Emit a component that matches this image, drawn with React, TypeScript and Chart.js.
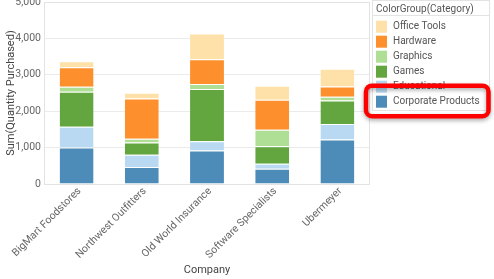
import React, { useEffect, useRef } from "react";
import { Chart, registerables } from "chart.js";

Chart.register(...registerables);

const companies = ["BigMart Foodstores", "Northwest Outfitters", "Old World Insurance", "Software Specialists", "Ubermeyer"];
const categories = ["Corporate Products", "Educational", "Games", "Graphics", "Hardware", "Office Tools"];
const corporateProducts = [1000, 468, 917, 421, 1220];
const educational = [570, 339, 259, 138, 425];
const games = [964, 331, 1432, 480, 650];
const graphics = [138, 102, 138, 449, 102];
const hardware = [532, 1110, 678, 826, 284];
const officeTools = [165, 157, 708, 386, 487];
const yTicks = [0, 1000, 2000, 3000, 4000, 5000];
const legendTitle = "ColorGroup(Category)";
const highlighted = "Corporate Products";

const seriesValues = [corporateProducts, educational, games, graphics, hardware, officeTools];
const seriesColors = ["#4d8bb8", "#b9d9f2", "#63a63f", "#aedf95", "#fd902c", "#fde1a8"];

const FONT = "Roboto, 'Noto Sans', sans-serif";

const framePlugin = {
  id: "frame",
  beforeDatasetsDraw(chart: any) {
    const { ctx, chartArea: a } = chart;
    ctx.save();
    ctx.strokeStyle = "#e3e3e3";
    ctx.lineWidth = 1;
    ctx.strokeRect(Math.round(a.left) + 0.5, Math.round(a.top) + 0.5, Math.round(a.right - a.left) - 1, Math.round(a.bottom - a.top));
    ctx.restore();
  },
  afterDraw(chart: any) {
    const { ctx } = chart;
    ctx.save();
    // legend frame
    const lx = 372.5, ly = 0.5, lw = 117, lh = 110;
    ctx.strokeStyle = "#e3e3e3";
    ctx.lineWidth = 1;
    ctx.strokeRect(lx, ly, lw, lh);
    ctx.beginPath();
    ctx.moveTo(lx, 15.5);
    ctx.lineTo(lx + lw, 15.5);
    ctx.stroke();
    ctx.fillStyle = "#555";
    ctx.font = `10px ${FONT}`;
    ctx.textBaseline = "middle";
    ctx.textAlign = "left";
    ctx.fillText(legendTitle, 376, 9);
    const n = categories.length;
    let hiY = 0;
    for (let k = 0; k < n; k++) {
      const i = n - 1 - k;
      const cy = 26.7 + k * 15;
      ctx.fillStyle = seriesColors[i];
      ctx.fillRect(376, cy - 6, 11, 12);
      ctx.fillStyle = "#555";
      ctx.fillText(categories[i], 393, cy);
      if (categories[i] === highlighted) hiY = cy;
    }
    // highlight box
    const bx = 366, by = hiY - 16, bw = 122.5, bh = 30.5, r = 6;
    ctx.shadowColor = "rgba(0,0,0,0.35)";
    ctx.shadowBlur = 4;
    ctx.shadowOffsetY = 2;
    ctx.strokeStyle = "#ff0000";
    ctx.lineWidth = 4.5;
    ctx.beginPath();
    ctx.moveTo(bx + r, by);
    ctx.lineTo(bx + bw - r, by);
    ctx.arcTo(bx + bw, by, bx + bw, by + r, r);
    ctx.lineTo(bx + bw, by + bh - r);
    ctx.arcTo(bx + bw, by + bh, bx + bw - r, by + bh, r);
    ctx.lineTo(bx + r, by + bh);
    ctx.arcTo(bx, by + bh, bx, by + bh - r, r);
    ctx.lineTo(bx, by + r);
    ctx.arcTo(bx, by, bx + r, by, r);
    ctx.closePath();
    ctx.stroke();
    ctx.restore();
  },
};

export default function App() {
  const ref = useRef<HTMLCanvasElement | null>(null);
  useEffect(() => {
    if (!ref.current) return;
    const chart = new Chart(ref.current, {
      type: "bar",
      data: {
        labels: companies,
        datasets: categories.map((c, i) => ({
          label: c,
          data: seriesValues[i],
          backgroundColor: seriesColors[i],
          borderColor: "#ffffff",
          borderWidth: { top: 1, left: 0, right: 0, bottom: 0 },
          borderSkipped: false,
          barPercentage: 0.52,
          categoryPercentage: 1,
        })),
      },
      options: {
        animation: false,
        responsive: false,
        devicePixelRatio: 1,
        layout: { padding: { top: 2, right: 124, left: 0, bottom: 0 } },
        plugins: { legend: { display: false }, tooltip: { enabled: false } },
        scales: {
          x: {
            stacked: true,
            grid: { display: false, drawTicks: false },
            border: { display: false },
            ticks: {
              autoSkip: false,
              minRotation: 45,
              maxRotation: 45,
              padding: 1,
              labelOffset: 3,
              color: "#666",
              font: { family: FONT, size: 10.5 },
            },
            title: {
              display: true,
              text: "Company",
              color: "#444",
              font: { family: FONT, size: 11 },
              padding: { top: 0, bottom: 2 },
            },
            afterFit(scale: any) {
              scale.height = 95;
              scale.paddingLeft = 0;
              scale.paddingRight = 0;
            },
          },
          y: {
            stacked: true,
            min: 0,
            max: 5000,
            afterBuildTicks(scale: any) {
              scale.ticks = yTicks.map((v) => ({ value: v }));
            },
            grid: { color: "#ebebeb", drawTicks: false },
            border: { display: false },
            ticks: {
              padding: 3,
              color: "#666",
              font: { family: FONT, size: 10.5 },
              callback: (v: any) => Number(v).toLocaleString("en-US"),
            },
            title: {
              display: true,
              text: "Sum(Quantity Purchased)",
              color: "#444",
              font: { family: FONT, size: 11 },
              padding: { top: 5, bottom: 0 },
            },
            afterFit(scale: any) {
              scale.width = 44;
              scale.paddingTop = 0;
              scale.paddingBottom = 0;
            },
          },
        },
      },
      plugins: [framePlugin],
    });
    return () => chart.destroy();
  }, []);
  return (
    <div style={{ position: "absolute", left: 0, top: 0, width: 494, height: 279, background: "#fff" }}>
      <canvas ref={ref} width={494} height={279} />
    </div>
  );
}
